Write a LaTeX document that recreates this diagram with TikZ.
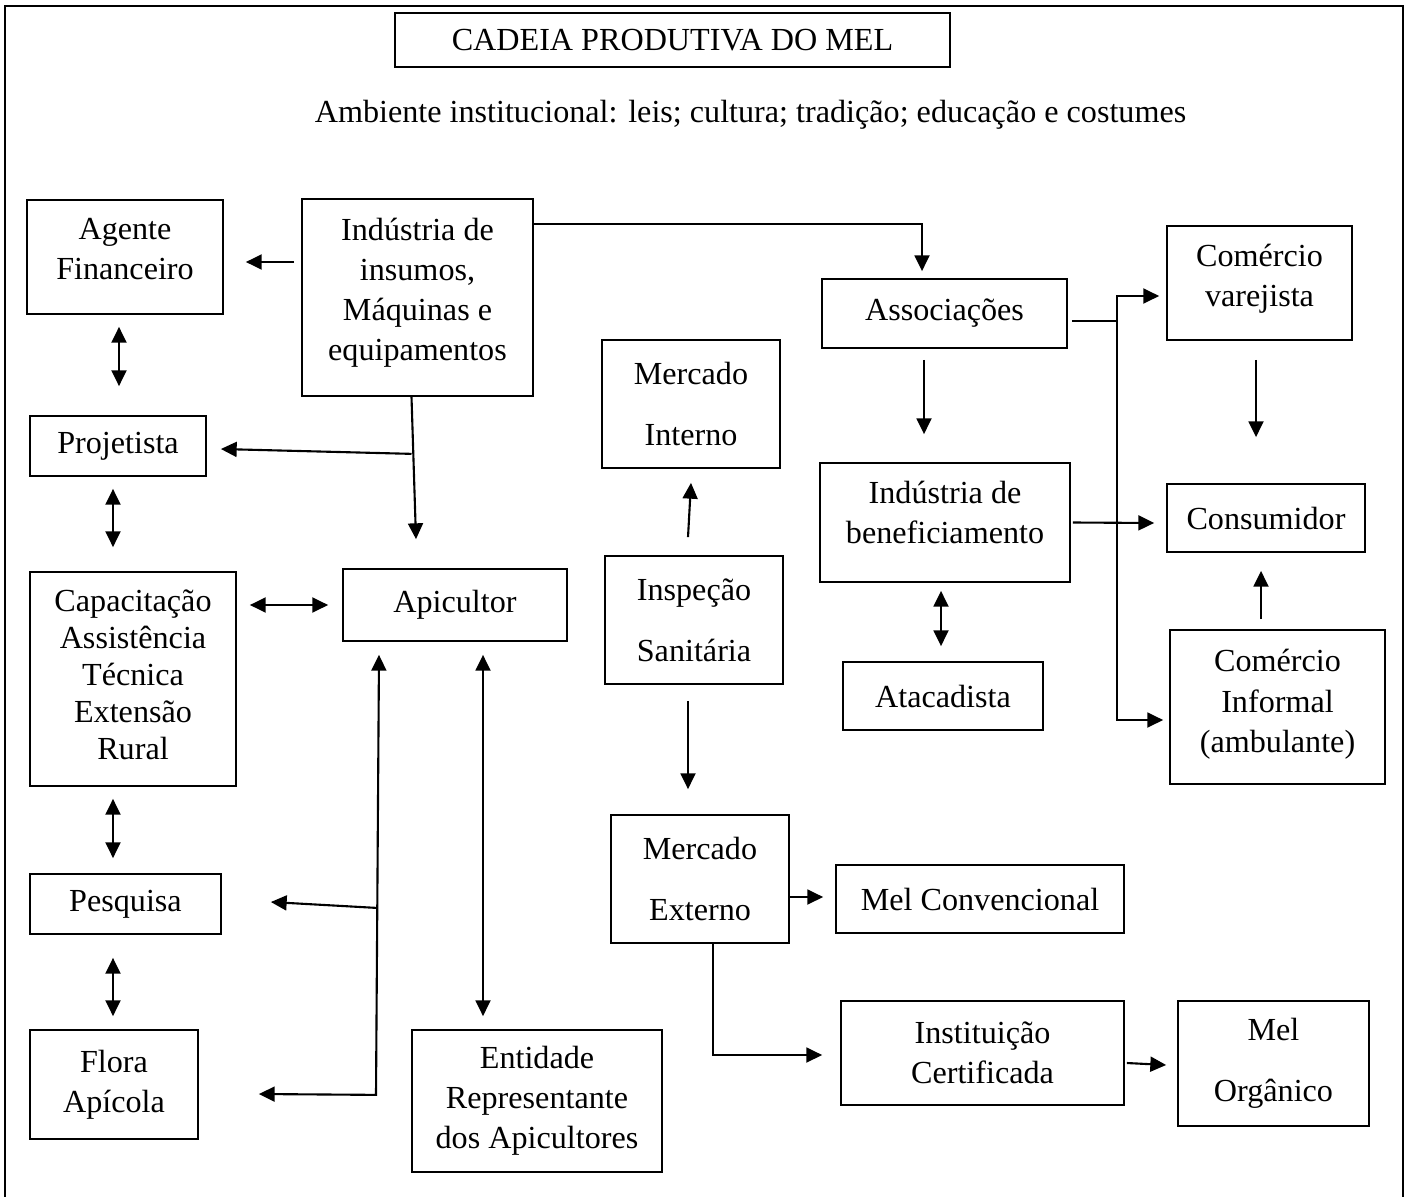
\documentclass[tikz,border=0pt]{standalone}
\usepackage{fontspec}
\setmainfont{Liberation Serif}
\usetikzlibrary{calc}
\usetikzlibrary{arrows.meta}

\begin{document}
\begin{tikzpicture}[x=0.02cm, y=-0.02cm,
  box/.style={draw, line width=1pt, align=center, inner sep=0pt, font=\fontsize{18.3}{22.8}\selectfont},
  up/.style={text depth=#1},
  arr/.style={line width=1.2pt, -{Triangle[length=9pt,width=8.5pt]}},
  darr/.style={line width=1.2pt, {Triangle[length=9pt,width=8.5pt]}-{Triangle[length=9pt,width=8.5pt]}}]
\useasboundingbox (0,0) rectangle (1412,1196);
\draw[line width=1.1pt] (5,1200) -- (5,6) -- (1403,6) -- (1403,1200);

\node[box, minimum width=11.1cm, minimum height=1.08cm] (title) at (672.5,40) {CADEIA PRODUTIVA DO MEL};
\node[font=\fontsize{18.3}{22.8}\selectfont] (ambiente) at (750.5,115) {Ambiente institucional: leis; cultura; tradição; educação e costumes};

% lado esquerdo
\node[box, up=9pt, minimum width=3.92cm, minimum height=2.28cm] (agente) at (125,257) {Agente\\Financeiro};
\node[box, up=9.5pt, minimum width=4.62cm, minimum height=3.94cm] (insumos) at (417.5,297.5) {Indústria de\\insumos,\\Máquinas e\\equipamentos};
\node[box, minimum width=3.52cm, minimum height=1.2cm] (projetista) at (118,446) {Projetista};
\node[box, up=5pt, minimum width=4.12cm, minimum height=4.28cm, font=\fontsize{18.3}{21}\selectfont] (capacit) at (133,679) {Capacitação\\Assistência\\Técnica\\Extensão\\Rural};
\node[box, minimum width=4.48cm, minimum height=1.44cm] (apicultor) at (455,605) {Apicultor};
\node[box, minimum width=3.82cm, minimum height=1.2cm] (pesquisa) at (125.5,904) {Pesquisa};
\node[box, minimum width=3.36cm, minimum height=2.18cm] (flora) at (114,1084.5) {Flora\\Apícola};
\node[box, minimum width=5cm, minimum height=2.84cm] (entidade) at (537,1101) {Entidade\\Representante\\dos Apicultores};

% mercados
\node[box, minimum width=3.56cm, minimum height=2.56cm] (minterno) at (691,404) {Mercado\\[12pt]Interno};
\node[box, minimum width=3.56cm, minimum height=2.56cm] (inspecao) at (694,620) {Inspeção\\[12pt]Sanitária};
\node[box, minimum width=3.56cm, minimum height=2.56cm] (mexterno) at (700,879) {Mercado\\[12pt]Externo};
\node[box, minimum width=5.76cm, minimum height=1.36cm] (melconv) at (980,899) {Mel Convencional};
\node[box, minimum width=5.66cm, minimum height=2.08cm] (instit) at (982.5,1053) {Instituição\\Certificada};
\node[box, minimum width=3.82cm, minimum height=2.5cm] (melorg) at (1273.5,1063.5) {Mel\\[12pt]Orgânico};

% lado direito
\node[box, minimum width=4.9cm, minimum height=1.38cm] (assoc) at (944.5,313.5) {Associações};
\node[box, up=11.5pt, minimum width=5cm, minimum height=2.38cm] (indbenef) at (945,522.5) {Indústria de\\beneficiamento};
\node[box, minimum width=4cm, minimum height=1.36cm] (atacad) at (943,696) {Atacadista};
\node[box, up=8.5pt, minimum width=3.7cm, minimum height=2.28cm] (varejista) at (1259.5,283) {Comércio\\varejista};
\node[box, minimum width=3.96cm, minimum height=1.36cm] (consumidor) at (1266,518) {Consumidor};
\node[box, up=7pt, minimum width=4.3cm, minimum height=3.08cm] (informal) at (1277.5,707) {Comércio\\Informal\\(ambulante)};

% ligacoes da esquerda
\draw[arr] ($(insumos.west |- agente.east)+(-7,5)$) -- ($(agente.east)+(22,5)$);
\draw[darr] ($(agente.south)+(-6,12)$) -- ($(projetista.north)+(1,-29)$);
\draw[arr] ($(insumos.south)+(-6,0)$) -- ($(apicultor.north)+(-39,-29)$);
\coordinate (j1) at ($(insumos.south)+(-6,57)$);
\draw[arr] (j1) -- ($(projetista.east)+(14,3)$);
\draw[darr] ($(projetista.south)+(-5,12)$) -- ($(capacit.north)+(-20,-24)$);
\draw[darr] ($(apicultor.west)+(-14,0)$) -- ($(apicultor.west -| capacit.east)+(13,0)$);
\draw[darr] ($(capacit.south)+(-20,12)$) -- ($(pesquisa.north)+(-12.5,-15)$);
\draw[darr] ($(pesquisa.south)+(-12.5,23)$) -- ($(flora.north)+(-1,-13)$);
\coordinate (j2) at ($(apicultor.south)+(-79,453)$);
\coordinate (j3) at ($(apicultor.south)+(-79,266)$);
\draw[darr] ($(apicultor.south)+(-76,13)$) -- (j2) -- ($(flora.east)+(60,9.5)$);
\draw[arr] (j3) -- ($(pesquisa.east)+(49,-2)$);
\draw[darr] ($(apicultor.south)+(28,13)$) -- ($(entidade.north)+(-54,-13)$);

% ligacoes do centro
\draw[arr] ($(insumos.north east)+(0,26)$) -| ($(assoc.north)+(-22.5,-7)$);
\draw[arr] ($(inspecao.north)+(-6,-18)$) -- ($(minterno.south)+(0,14)$);
\draw[arr] ($(inspecao.south)+(-6,16)$) -- ($(mexterno.north)+(-12,-25)$);
\draw[arr] ($(mexterno.east)+(0,18)$) -- ($(melconv.west)+(-12,-2)$);
\draw[arr] ($(mexterno.south)+(13,0)$) |- ($(instit.west)+(-18,2)$);
\draw[arr] ($(instit.east)+(2,10)$) -- ($(melorg.west)+(-11,1.5)$);

% ligacoes da direita
\draw[arr] ($(assoc.south)+(-20.5,11)$) -- ($(indbenef.north)+(-21,-28)$);
\draw[darr] ($(indbenef.south)+(-4,8)$) -- ($(atacad.north)+(-2,-15)$);
\coordinate (b1) at ($(assoc.east)+(49,7.5)$);
\draw[line width=1.2pt] ($(assoc.east)+(4,7.5)$) -- (b1);
\draw[arr] (b1) |- ($(varejista.west)+(-7,13)$);
\draw[arr] (b1) |- ($(informal.west)+(-6,13)$);
\draw[arr] ($(indbenef.east)+(2,0)$) -- ($(consumidor.west)+(-12,5)$);
\draw[arr] ($(varejista.south)+(-3.5,19)$) -- ($(consumidor.north)+(-10,-46)$);
\draw[arr] ($(informal.north)+(-16.5,-10)$) -- ($(consumidor.south)+(-5,18)$);
\end{tikzpicture}
\end{document}
